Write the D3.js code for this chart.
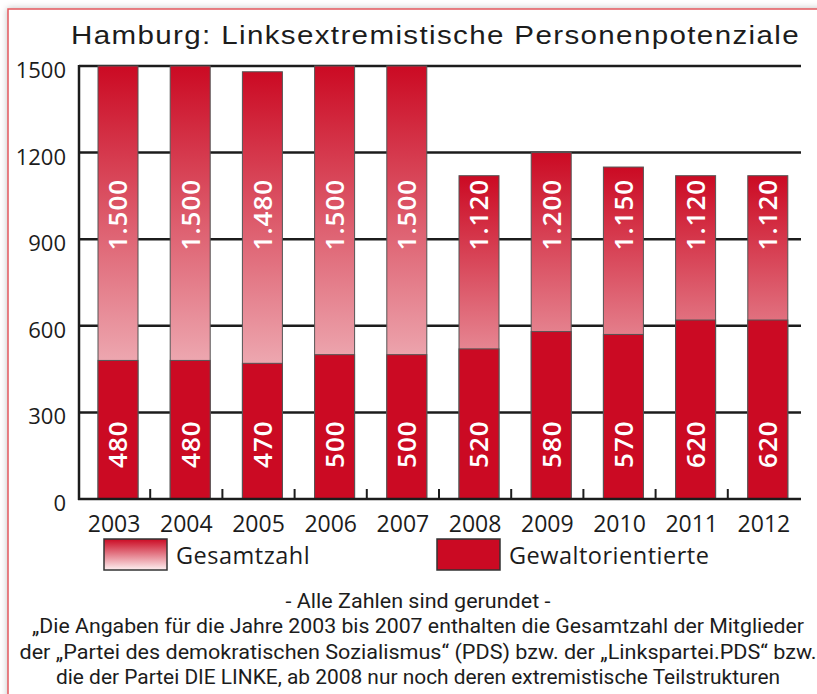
<!DOCTYPE html>
<html>
<head>
<meta charset="utf-8">
<script src="https://cdn.jsdelivr.net/npm/d3@7"></script>
<style>
  body { margin: 0; background: #fff; }
  svg { display: block; }
</style>
</head>
<body>
<svg id="chart" width="817" height="694"></svg>
<script>
var years = ["2003", "2004", "2005", "2006", "2007", "2008", "2009", "2010", "2011", "2012"];
var gesamtzahl = [1500, 1500, 1480, 1500, 1500, 1120, 1200, 1150, 1120, 1120];
var gewaltorientierte = [480, 480, 470, 500, 500, 520, 580, 570, 620, 620];
var yTicks = [0, 300, 600, 900, 1200, 1500];
var legendLabels = ["Gesamtzahl", "Gewaltorientierte"];
var title = "Hamburg: Linksextremistische Personenpotenziale";
var notes = [
  "- Alle Zahlen sind gerundet -",
  "\u201EDie Angaben f\u00FCr die Jahre 2003 bis 2007 enthalten die Gesamtzahl der Mitglieder",
  "der \u201EPartei des demokratischen Sozialismus\u201C (PDS) bzw. der \u201ELinkspartei.PDS\u201C bzw.",
  "die der Partei DIE LINKE, ab 2008 nur noch deren extremistische Teilstrukturen"
];

var red = "#cb0a23";
var ink = "#1c1c1c";
var sans = "'Open Sans', 'DejaVu Sans', sans-serif";

var svg = d3.select("#chart");
var defs = svg.append("defs");

var shadow = defs.append("filter").attr("id", "shadow")
  .attr("x", "-5%").attr("y", "-5%").attr("width", "110%").attr("height", "110%");
shadow.append("feDropShadow")
  .attr("dx", 0).attr("dy", 0).attr("stdDeviation", 3)
  .attr("flood-color", "#000").attr("flood-opacity", 0.25);

var grad = defs.append("linearGradient").attr("id", "barGrad")
  .attr("x1", 0).attr("y1", 0).attr("x2", 0).attr("y2", 1);
grad.append("stop").attr("offset", "0%").attr("stop-color", red);
grad.append("stop").attr("offset", "100%").attr("stop-color", "#fdf0f1");

// frame
svg.append("rect")
  .attr("x", 8).attr("y", 9).attr("width", 830).attr("height", 700)
  .attr("fill", "#fff").attr("stroke", "#e2585d").attr("stroke-width", 1.5)
  .attr("filter", "url(#shadow)");

var x = d3.scaleBand().domain(years).range([78, 800]).padding(0);
var y = d3.scaleLinear().domain([0, 1500]).range([499, 66]);

var barOffset = 20, barWidth = 40;

svg.append("text")
  .attr("x", 71).attr("y", 44)
  .attr("textLength", 729).attr("lengthAdjust", "spacingAndGlyphs")
  .style("font-family", "'Liberation Sans', Arial, sans-serif")
  .style("font-size", "26px").style("letter-spacing", "1.2px")
  .attr("fill", ink)
  .text(title);

// grid lines
svg.append("g").selectAll("line")
  .data(yTicks.filter(function(d) { return d > 0; }))
  .join("line")
  .attr("x1", 79).attr("x2", 801)
  .attr("y1", function(d) { return y(d); })
  .attr("y2", function(d) { return y(d); })
  .attr("stroke", ink).attr("stroke-width", 2.5);

// y labels
svg.append("g").selectAll("text")
  .data(yTicks)
  .join("text")
  .attr("x", 66)
  .attr("y", function(d) { return y(d) + 12; })
  .attr("text-anchor", "end")
  .style("font-family", sans).style("font-size", "22px")
  .attr("fill", ink)
  .text(function(d) { return d; });

var bars = svg.append("g").selectAll("g")
  .data(years)
  .join("g")
  .attr("transform", function(d) { return "translate(" + (x(d) + barOffset) + ",0)"; });

bars.append("rect")
  .attr("y", function(d, i) { return y(gesamtzahl[i]); })
  .attr("width", barWidth)
  .attr("height", function(d, i) { return y(0) - y(gesamtzahl[i]); })
  .attr("fill", "url(#barGrad)")
  .attr("stroke", "#555").attr("stroke-width", 1);

bars.append("rect")
  .attr("y", function(d, i) { return y(gewaltorientierte[i]); })
  .attr("width", barWidth)
  .attr("height", function(d, i) { return y(0) - y(gewaltorientierte[i]); })
  .attr("fill", red)
  .attr("stroke", "#555").attr("stroke-width", 1);

var fmt = d3.formatLocale({decimal: ",", thousands: ".", grouping: [3], currency: ["", "€"]}).format(",d");

bars.append("text")
  .attr("transform", "translate(" + (barWidth / 2) + "," + y(985) + ") rotate(-90)")
  .attr("text-anchor", "middle").attr("dy", "0.36em")
  .style("font-family", sans).style("font-size", "26px").style("font-weight", 600)
  .style("letter-spacing", "1px")
  .attr("fill", "#fff")
  .text(function(d, i) { return fmt(gesamtzahl[i]); });

bars.append("text")
  .attr("transform", "translate(" + (barWidth / 2) + "," + y(190) + ") rotate(-90)")
  .attr("text-anchor", "middle").attr("dy", "0.36em")
  .style("font-family", sans).style("font-size", "26px").style("font-weight", 600)
  .style("letter-spacing", "1px")
  .attr("fill", "#fff")
  .text(function(d, i) { return gewaltorientierte[i]; });

// axes lines
svg.append("line")
  .attr("x1", 79).attr("x2", 79).attr("y1", y(1500) - 1).attr("y2", y(0) + 1)
  .attr("stroke", ink).attr("stroke-width", 2.5);
svg.append("line")
  .attr("x1", 78).attr("x2", 801).attr("y1", y(0)).attr("y2", y(0))
  .attr("stroke", ink).attr("stroke-width", 2.5);

// x ticks between bands
svg.append("g").selectAll("line")
  .data(years.slice(1))
  .join("line")
  .attr("x1", function(d) { return x(d); })
  .attr("x2", function(d) { return x(d); })
  .attr("y1", y(0)).attr("y2", y(0) - 10)
  .attr("stroke", ink).attr("stroke-width", 2);

svg.append("g").selectAll("text")
  .data(years)
  .join("text")
  .attr("x", function(d) { return x(d) + x.bandwidth() / 2; })
  .attr("y", 532)
  .attr("text-anchor", "middle")
  .style("font-family", sans).style("font-size", "23px")
  .attr("fill", ink)
  .text(function(d) { return d; });

// legend
var legend = svg.append("g");
var legendX = [104, 437];
legend.selectAll("rect")
  .data(legendLabels)
  .join("rect")
  .attr("x", function(d, i) { return legendX[i]; })
  .attr("y", 539)
  .attr("width", 63).attr("height", 31)
  .attr("fill", function(d, i) { return i === 0 ? "url(#barGrad)" : red; })
  .attr("stroke", "#333").attr("stroke-width", 1.5);
legend.selectAll("text")
  .data(legendLabels)
  .join("text")
  .attr("x", function(d, i) { return legendX[i] + 72; })
  .attr("y", 564)
  .style("font-family", sans).style("font-size", "23.5px")
  .style("letter-spacing", "0.5px")
  .attr("fill", ink)
  .text(function(d) { return d; });

// footnotes
var noteWidths = [265, 772, 797, 724];
svg.append("g").selectAll("text")
  .data(notes)
  .join("text")
  .attr("x", 418)
  .attr("y", function(d, i) { return 608 + i * 25.3; })
  .attr("text-anchor", "middle")
  .attr("textLength", function(d, i) { return noteWidths[i]; })
  .attr("lengthAdjust", "spacingAndGlyphs")
  .style("font-family", "'Liberation Sans Narrow', 'Roboto', sans-serif")
  .style("font-size", "21px")
  .attr("fill", ink)
  .text(function(d) { return d; });
</script>
</body>
</html>
